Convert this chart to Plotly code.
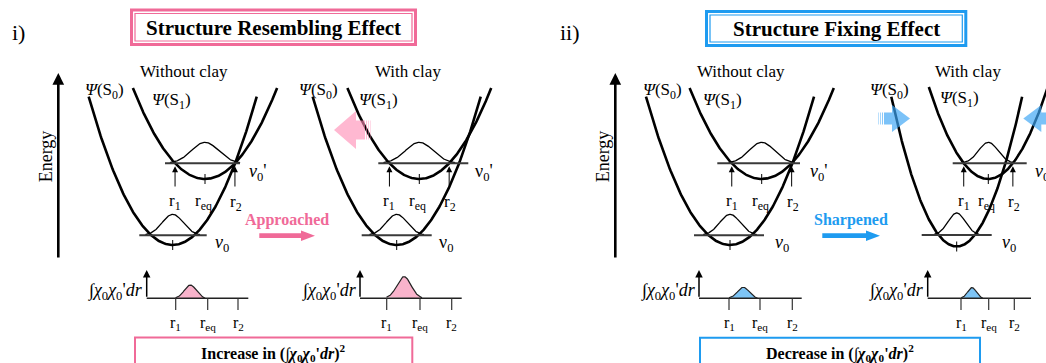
import numpy as np
import plotly.graph_objects as go

W, H = 1046, 363

# ---------------- schematic model values ----------------
panel_labels = ["i)", "ii)"]
panel_titles = ["Structure Resembling Effect", "Structure Fixing Effect"]
panel_results = ["Increase in", "Decrease in"]
change_words = ["Approached", "Sharpened"]

diagram_titles = ["Without clay", "With clay", "Without clay", "With clay"]
# ground state S0 well
s0_center = [172.7, 396.7, 730.0, 956.7]
s0_bottom = [245.0, 245.0, 245.0, 246.5]
s0_curv = [0.021, 0.021, 0.021, 0.035]
s0_top = [96.7, 96.7, 96.7, 96.7]
# excited state S1 well
s1_center = [205.0, 419.3, 761.7, 988.3]
s1_bottom = [179.0, 179.0, 179.0, 179.0]
s1_curv = [0.0175, 0.0176, 0.0175, 0.026]
s1_top = [88.0, 88.0, 88.0, 87.0]
# vibrational levels
v0_level = [235.3, 235.3, 235.3, 235.0]
v0p_level = [163.3, 163.3, 163.3, 163.3]
v0_line_x = [[139.3, 206.7], [361.7, 431.7], [694.0, 764.0], [921.7, 991.7]]
v0p_line_x = [[165.0, 240.0], [378.3, 468.3], [717.3, 800.0], [952.7, 1026.7]]
# vibrational wavefunctions
wave0_amp = [21.0, 21.0, 21.0, 22.0]
wave0_sigma = [10.5, 10.5, 10.3, 8.6]
wavep_amp = [21.0, 21.0, 21.0, 21.0]
wavep_sigma = [13.5, 13.8, 12.7, 9.7]
# overlap integral curves
overlap_amp = [13.3, 21.7, 11.0, 10.7]
overlap_center = [190.3, 404.0, 743.3, 972.0]
overlap_sigma = [5.9, 7.0, 5.7, 4.3]
overlap_origin = [146.7, 360.0, 699.0, 927.7]
overlap_end = [248.3, 461.7, 801.7, 1031.0]
overlap_ticks = [[175.7, 207.7, 238.0], [386.7, 420.0, 451.7],
                 [729.0, 760.0, 792.3], [961.0, 988.7, 1014.3]]
tick_labels = ["r<sub>1</sub>", "r<sub>eq</sub>", "r<sub>2</sub>"]

# ---------------- styles ----------------
PINK = "#F06A98"
PINK_FILL = "#F9B3CB"
BLUE = "#1E9BF0"
BLUE_FILL = "#7DC4F5"
SERIF = "Liberation Serif"
panel_color = [PINK, BLUE]
panel_fill = [PINK_FILL, BLUE_FILL]

fig = go.Figure()
shapes = []
ann = []


def line(x0, y0, x1, y1, color="black", width=1.0):
    shapes.append(dict(type="line", x0=x0, y0=y0, x1=x1, y1=y1, xref="x", yref="y",
                       line=dict(color=color, width=width), layer="above"))


def text(x, y, t, size=17, color="black", xanchor="center", angle=0, bold=False):
    if bold:
        t = "<b>" + t + "</b>"
    ann.append(dict(x=x, y=y, xref="x", yref="y", text=t, showarrow=False,
                    font=dict(family=SERIF, size=size, color=color),
                    xanchor=xanchor, yanchor="middle", textangle=angle))


def arrow(xt, yt, xs, ys, width=1.0, size=1.0, head=2, color="black"):
    ann.append(dict(x=xt, y=yt, ax=xs, ay=ys, xref="x", yref="y", axref="x", ayref="y",
                    text="", showarrow=True, arrowhead=head, arrowsize=size,
                    arrowwidth=width, arrowcolor=color, standoff=0, startstandoff=0))


def well(c, yb, a, ytop):
    hw = np.sqrt((yb - ytop) / a)
    x = np.linspace(c - hw, c + hw, 240)
    return x, yb - a * (x - c) ** 2


def gauss(c, level, amp, sig, span=2.6, n=120):
    x = np.linspace(c - span * sig, c + span * sig, n)
    return x, level - amp * np.exp(-((x - c) ** 2) / (2 * sig ** 2))


# ---------------- potential diagrams ----------------
for k in range(4):
    line(v0_line_x[k][0], v0_level[k], v0_line_x[k][1], v0_level[k], "#3a3a3a", 2.0)
    line(v0p_line_x[k][0], v0p_level[k], v0p_line_x[k][1], v0p_level[k], "#3a3a3a", 2.0)
    gx, gy = gauss(s0_center[k], v0_level[k], wave0_amp[k], wave0_sigma[k])
    fig.add_trace(go.Scatter(x=gx, y=gy, mode="lines", line=dict(color="black", width=1.3),
                             hoverinfo="skip", showlegend=False))
    gx, gy = gauss(s1_center[k], v0p_level[k], wavep_amp[k], wavep_sigma[k])
    fig.add_trace(go.Scatter(x=gx, y=gy, mode="lines", line=dict(color="black", width=1.3),
                             hoverinfo="skip", showlegend=False))
    for c, yb, a, yt in [(s0_center[k], s0_bottom[k], s0_curv[k], s0_top[k]),
                         (s1_center[k], s1_bottom[k], s1_curv[k], s1_top[k])]:
        wx, wy = well(c, yb, a, yt)
        fig.add_trace(go.Scatter(x=wx, y=wy, mode="lines", line=dict(color="black", width=2.6),
                                 hoverinfo="skip", showlegend=False))
        line(c, yb - 5, c, yb + 5, "black", 1.0)
    hw = np.sqrt((s1_bottom[k] - v0p_level[k]) / s1_curv[k])
    r1, r2 = s1_center[k] - hw, s1_center[k] + hw
    for r in (r1, r2):
        arrow(r, v0p_level[k] + 3, r, 188, width=1.0, size=1.2)
    text(r1, 202, tick_labels[0])
    text(s1_center[k] - 1.5, 202, tick_labels[1])
    text(r2 + 1, 203, tick_labels[2])
    text(s0_center[k] + 11, 71, diagram_titles[k])

psi0_x = [104.0, 318.7, 662.0, 889.0]
psi1_x = [171.0, 378.0, 722.0, 959.5]
for k in range(4):
    text(psi0_x[k], 91, "<i>Ψ</i>(S<sub>0</sub>)")
    text(psi1_x[k], 101 if k < 3 else 99, "<i>Ψ</i>(S<sub>1</sub>)")

vp_label_x = [246.7, 473.0, 808.3, 1033.3]
v0_label_x = [213.3, 436.7, 773.3, 1000.0]
vsym = ["<i>v</i>", "ν", "<i>v</i>", "<i>v</i>"]
for k in range(4):
    text(vp_label_x[k], 172, vsym[k] + "<sub>0</sub>'", size=18, xanchor="left")
    text(v0_label_x[k], 243.5, vsym[k] + "<sub>0</sub>", size=18, xanchor="left")

# ---------------- overlap integral plots ----------------
for k in range(4):
    ox, base = overlap_origin[k], 298.3
    gx, gy = gauss(overlap_center[k], base, overlap_amp[k], overlap_sigma[k], span=2.5)
    fig.add_trace(go.Scatter(x=np.r_[gx, gx[::-1][:1]], y=np.r_[gy, [base]], mode="lines",
                             fill="toself", fillcolor=panel_fill[k // 2],
                             line=dict(color="#222", width=1.2), hoverinfo="skip",
                             showlegend=False))
    line(ox, base, overlap_end[k], base, "#222", 1.6)
    arrow(ox, 270, ox, base, width=1.5, size=1.0)
    for t, lab in zip(overlap_ticks[k], tick_labels):
        line(t, base, t, 310, "#333", 1.2)
        text(t, 323, lab, size=16)
    text(ox - 1.5, 291, "∫<i>χ</i><sub>0</sub><i>χ</i><sub>0</sub>'<i>dr</i>", size=18,
         xanchor="right")

# ---------------- panel furniture ----------------
panel_dx = [0.0, 557.0]
title_box = [[130.0, 8.5, 417.0, 46.0], [705.0, 10.0, 967.3, 47.0]]
result_box = [[135.0, 337.5, 412.3, 372.0], [700.0, 337.7, 980.0, 372.0]]
for p in range(2):
    dx = panel_dx[p]
    col = panel_color[p]
    text(18 + dx - (5 if p else 0), 32, panel_labels[p], size=22)
    x0, y0, x1, y1 = title_box[p]
    shapes.append(dict(type="rect", x0=x0 + 1.5, y0=y0 + 1.5, x1=x1 - 1.5, y1=y1 - 1.5,
                       xref="x", yref="y", line=dict(color=col, width=3)))
    shapes.append(dict(type="rect", x0=x0 + 5, y0=y0 + 5, x1=x1 - 5, y1=y1 - 5,
                       xref="x", yref="y", line=dict(color=col, width=1.2)))
    text((x0 + x1) / 2, (y0 + y1) / 2 + 0.5, panel_titles[p], size=21, bold=True)
    x0, y0, x1, y1 = result_box[p]
    shapes.append(dict(type="rect", x0=x0, y0=y0, x1=x1, y1=y1, xref="x", yref="y",
                       line=dict(color=col, width=2)))
    text((x0 + x1) / 2, 353,
         panel_results[p] + " (∫<i>χ</i><sub>0</sub><i>χ</i><sub>0</sub>'<i>dr</i>)<sup>2</sup>",
         size=16, bold=True)
    ex = 58.3 + dx
    arrow(ex, 73, ex, 259, width=2.6, size=0.9)
    text(ex - 12, 156, "Energy", size=18, angle=-90)
    ax0 = 259.3 + dx + (6 if p else 0)
    ax1 = 315.0 + dx + (8 if p else 0)
    shapes.append(dict(type="path", xref="x", yref="y", line=dict(width=0), fillcolor=col,
                       path=f"M{ax0},{233.3} L{ax1-14},{233.3} L{ax1-14},{230.5} L{ax1},{235.7} "
                            f"L{ax1-14},{241.0} L{ax1-14},{238.1} L{ax0},{238.1} Z"))
    text((ax0 + ax1) / 2, 220, change_words[p], size=16, color=col, bold=True)

# ---------------- translucent block arrows ----------------
block_tip = [334.0, 910.0, 1023.3]
block_y = [130.0, 118.5, 118.5]
block_dir = [-1, 1, -1]
block_head = [22.0, 18.0, 18.0]
block_head_half = [19.0, 13.5, 13.5]
block_body = [9.0, 8.0, 8.0]
block_body_half = [9.5, 6.0, 6.0]
block_color = ["rgba(255,140,180,0.62)", "rgba(60,165,245,0.68)", "rgba(60,165,245,0.68)"]
for b in range(3):
    d = -block_dir[b]
    t, yc = block_tip[b], block_y[b]
    hb = t + d * block_head[b]
    bb = hb + d * block_body[b]
    hh, bh = block_head_half[b], block_body_half[b]
    shapes.append(dict(type="path", xref="x", yref="y", line=dict(width=0),
                       fillcolor=block_color[b], layer="above",
                       path=f"M{t},{yc} L{hb},{yc-hh} L{hb},{yc-bh} L{bb},{yc-bh} "
                            f"L{bb},{yc+bh} L{hb},{yc+bh} L{hb},{yc+hh} Z"))
    for s in range(3):
        sx = bb + d * (1.5 + 2.0 * s)
        shapes.append(dict(type="rect", xref="x", yref="y", line=dict(width=0),
                           fillcolor=block_color[b], opacity=0.9 - 0.2 * s, layer="above",
                           x0=sx - 0.5 * d, x1=sx + 0.5 * d, y0=yc - bh, y1=yc + bh))

fig.update_layout(
    width=W, height=H, margin=dict(l=0, r=0, t=0, b=0),
    paper_bgcolor="white", plot_bgcolor="white",
    xaxis=dict(range=[0, W], visible=False, fixedrange=True),
    yaxis=dict(range=[H, 0], visible=False, fixedrange=True),
    shapes=shapes, annotations=ann, showlegend=False,
)
fig.write_html("out.html", config={"displayModeBar": False},
               post_script="document.body.style.margin='0';document.body.style.overflow='hidden';")
